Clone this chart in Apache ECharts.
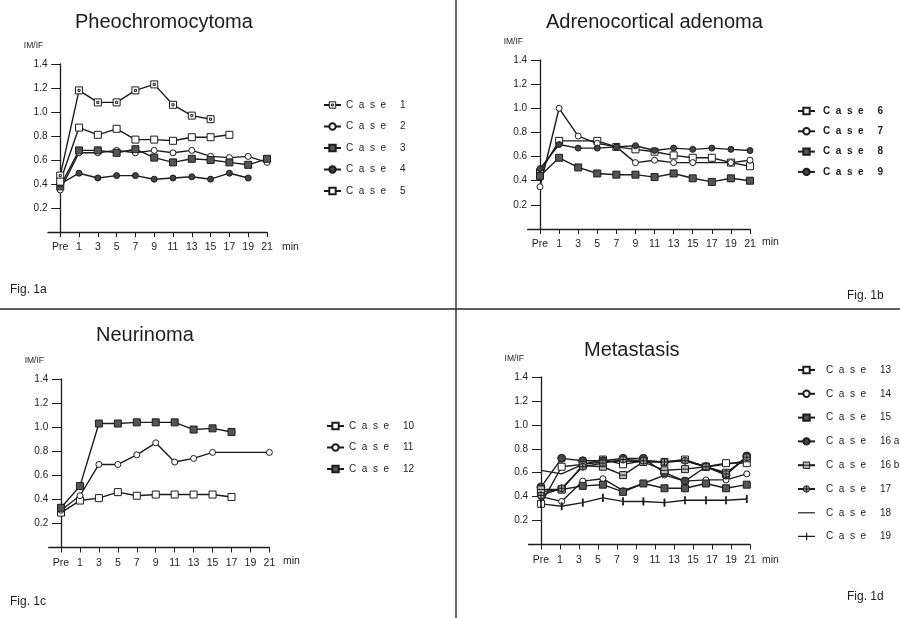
<!DOCTYPE html>
<html>
<head>
<meta charset="utf-8">
<script src="https://cdn.jsdelivr.net/npm/echarts@6/dist/echarts.min.js"></script>
<style>
  html, body { margin: 0; background: #fff; }
  #chart { width: 900px; height: 618px; }
</style>
</head>
<body>
<div id="chart"></div>
<script>
// x positions: Pre = 0, then one step per 2 min
const xLabels = ['Pre', '1', '3', '5', '7', '9', '11', '13', '15', '17', '19', '21'];
const xIdx = [0, 1, 2, 3, 4, 5, 6, 7, 8, 9, 10, 11];
// metastasis samples don't sit on the ticks
const metX = [0, 1.09, 2.2, 3.26, 4.32, 5.39, 6.5, 7.58, 8.68, 9.74, 10.83];

// Fig 1a - Pheochromocytoma
const case1 = [0.47, 1.18, 1.08, 1.08, 1.18, 1.23, 1.06, 0.97, 0.94, null, null, null];
const case2 = [0.35, 0.66, 0.66, 0.68, 0.66, 0.68, 0.66, 0.68, 0.63, 0.62, 0.63, 0.58];
const case3 = [0.38, 0.68, 0.68, 0.66, 0.69, 0.62, 0.58, 0.61, 0.60, 0.58, 0.56, 0.61];
const case4 = [0.40, 0.49, 0.45, 0.47, 0.47, 0.44, 0.45, 0.46, 0.44, 0.49, 0.45, null];
const case5 = [0.42, 0.87, 0.81, 0.86, 0.77, 0.77, 0.76, 0.79, 0.79, 0.81, null, null];

// Fig 1b - Adrenocortical adenoma
const case6 = [0.47, 0.73, null, 0.73, 0.68, 0.66, 0.64, 0.61, 0.59, 0.59, 0.55, 0.52];
const case7 = [0.35, 1.00, 0.77, 0.71, 0.68, 0.55, 0.57, 0.55, 0.55, null, 0.55, 0.57];
const case8 = [0.44, 0.59, 0.51, 0.46, 0.45, 0.45, 0.43, 0.46, 0.42, 0.39, 0.42, 0.40];
const case9 = [0.50, 0.70, 0.67, 0.67, 0.68, 0.69, 0.65, 0.67, 0.66, 0.67, 0.66, 0.65];

// Fig 1c - Neurinoma
const case10 = [0.29, 0.39, 0.41, 0.46, 0.43, 0.44, 0.44, 0.44, 0.44, 0.42, null, null];
const case11 = [0.31, 0.43, 0.69, 0.69, 0.77, 0.87, 0.71, 0.74, 0.79, null, null, 0.79];
const case12 = [0.33, 0.51, 1.03, 1.03, 1.04, 1.04, 1.04, 0.98, 0.99, 0.96, null, null];

// Fig 1d - Metastasis
const case13 = [0.34, 0.65, 0.67, 0.71, 0.67, 0.70, 0.69, 0.71, 0.65, 0.68, 0.68];
const case14 = [0.40, 0.36, 0.53, 0.55, 0.45, 0.51, 0.58, 0.53, 0.54, 0.54, 0.59];
const case15 = [0.44, 0.46, 0.49, 0.50, 0.44, 0.51, 0.47, 0.47, 0.51, 0.47, 0.50];
const case16a = [0.48, 0.72, 0.70, 0.70, 0.72, 0.72, 0.60, 0.53, 0.65, 0.58, 0.74];
const case16b = [0.46, 0.46, 0.66, 0.65, 0.58, 0.69, 0.62, 0.63, 0.65, 0.60, 0.72];
const case17 = [0.41, 0.47, 0.65, 0.68, 0.71, 0.70, 0.69, 0.70, 0.65, 0.59, 0.73];
const case18 = [0.62, 0.59, 0.67, 0.69, 0.70, 0.69, 0.69, 0.70, 0.65, 0.67, 0.70];
const case19 = [0.34, 0.32, 0.35, 0.39, 0.36, 0.36, 0.35, 0.37, 0.37, 0.37, 0.38];

const FONT = '"Liberation Sans", Arial, sans-serif';
const INK = '#1c1c1c';

// marker shapes
const SQ_DOT = 'path://M0,0H10V10H0Z M3.5,3.5H6.5V6.5H3.5Z';
const SQ_BAR = 'path://M0,0H10V10H0Z M0,5H10';
const CIR_X = 'path://M5,0A5,5 0 1 1 5,10A5,5 0 1 1 5,0Z M5,0V10 M0,5H10';
const DASH = 'path://M0,0H17V1.2H0Z';
const DASH_TICK = 'path://M0,3H17V4.2H0Z M8,0H9.2V7.5H8Z';

function line(name, g, xs, vals, symbol, fill, size) {
  return {
    name: name,
    type: 'line',
    xAxisIndex: g,
    yAxisIndex: g,
    data: vals.map((v, i) => [xs[i], v]).filter(d => d[1] !== null),
    symbol: symbol,
    symbolSize: size,
    showSymbol: symbol !== 'none',
    lineStyle: { color: INK, width: 1.4 },
    itemStyle: { color: fill, borderColor: INK, borderWidth: 1 },
    emphasis: { disabled: true },
    z: 3
  };
}

const grids = [
  { left: 48, top: 64, width: 219, height: 168 },
  { left: 527.6, top: 60, width: 222.4, height: 169 },
  { left: 48.7, top: 379, width: 220.7, height: 168.5 },
  { left: 528.6, top: 377, width: 221.4, height: 167.5 }
];

const xAxes = grids.map((_, g) => ({
  type: 'value',
  gridIndex: g,
  min: -0.65,
  max: 11,
  axisLine: { lineStyle: { color: INK, width: 1.3 } },
  axisTick: { customValues: xIdx, length: 5, lineStyle: { color: INK } },
  axisLabel: {
    customValues: xIdx,
    formatter: v => xLabels[Math.round(v)],
    margin: 10, fontSize: 10.5, color: INK, fontFamily: FONT
  },
  splitLine: { show: false }
}));

// y labels stay at the grid edge when the axis line sits on x = 0 (Pre),
// so the margin is small
const yAxes = grids.map((_, g) => ({
  type: 'value',
  gridIndex: g,
  min: 0,
  max: 1.4,
  interval: 0.2,
  name: 'IM/IF',
  nameLocation: 'end',
  nameGap: 14,
  nameTextStyle: { fontSize: 8.5, color: INK, fontFamily: FONT, align: 'right', padding: [0, 17, 0, 0] },
  axisLine: { show: true, lineStyle: { color: INK, width: 1.3 } },
  axisTick: { show: true, length: 9, lineStyle: { color: INK } },
  axisLabel: {
    formatter: v => (v === 0 ? '' : v.toFixed(1)),
    margin: 0.5, fontSize: 10, color: INK, fontFamily: FONT
  },
  splitLine: { show: false }
}));

const caseFmt = n => 'C  a  s  e     ' + n.slice(5);
function legend(items, left, top, gap, bold, pad) {
  return {
    data: items,
    orient: 'vertical',
    left: left,
    top: top,
    padding: 0,
    itemWidth: 17,
    itemHeight: 8,
    itemGap: gap,
    selectedMode: false,
    formatter: caseFmt,
    textStyle: { fontSize: 10, lineHeight: 12, color: INK, fontFamily: FONT, fontWeight: bold ? 'bold' : 'normal', padding: [0, 0, 0, pad] }
  };
}
const pathItem = (name, fill) => ({ name: name, itemStyle: { color: fill, borderColor: INK, borderWidth: 1 } });
const iconItem = (name, icon) => ({ name: name, icon: icon, itemStyle: { color: INK, borderWidth: 0 } });

function label(text, left, top, size) {
  return { text: text, left: left, top: top, padding: 0,
    textStyle: { fontSize: size, fontWeight: 'normal', color: INK, fontFamily: FONT } };
}

const option = {
  backgroundColor: '#fff',
  animation: false,
  title: [
    label('Pheochromocytoma', 75, 12, 20),
    label('Adrenocortical adenoma', 546, 12, 20),
    label('Neurinoma', 96, 325, 20),
    label('Metastasis', 584, 340, 20),
    label('min', 282, 242, 10.5),
    label('min', 762, 237, 10.5),
    label('min', 283, 556, 10.5),
    label('min', 762, 555, 10.5),
    label('Fig. 1a', 10, 284, 12),
    label('Fig. 1b', 847, 290, 12),
    label('Fig. 1c', 10, 596, 12),
    label('Fig. 1d', 847, 591, 12)
  ],
  legend: [
    legend([pathItem('Case 1', '#fff'), 'Case 2', 'Case 3', 'Case 4', 'Case 5'], 323, 99, 9.5, false, 0),
    legend(['Case 6', 'Case 7', 'Case 8', 'Case 9'], 797, 105, 8.3, true, 3),
    legend(['Case 10', 'Case 11', 'Case 12'], 326, 420, 9.5, false, 0),
    legend(['Case 13', 'Case 14', 'Case 15', 'Case 16 a', pathItem('Case 16 b', '#bbb'),
      pathItem('Case 17', '#999'), iconItem('Case 18', DASH), iconItem('Case 19', DASH_TICK)], 797, 364, 11.8, false, 6)
  ],
  grid: grids,
  xAxis: xAxes,
  yAxis: yAxes,
  graphic: [
    { type: 'line', shape: { x1: 456, y1: 0, x2: 456, y2: 618 }, style: { stroke: '#3a3a3a', lineWidth: 1.5 } },
    { type: 'line', shape: { x1: 0, y1: 309, x2: 900, y2: 309 }, style: { stroke: '#2a2a2a', lineWidth: 1.5 } }
  ],
  series: [
    line('Case 1', 0, xIdx, case1, SQ_DOT, '#fff', 7),
    line('Case 2', 0, xIdx, case2, 'circle', '#fff', 6),
    line('Case 3', 0, xIdx, case3, 'rect', '#555', 7),
    line('Case 4', 0, xIdx, case4, 'circle', '#444', 6),
    line('Case 5', 0, xIdx, case5, 'rect', '#fff', 7),

    line('Case 6', 1, xIdx, case6, 'rect', '#fff', 7),
    line('Case 7', 1, xIdx, case7, 'circle', '#fff', 6),
    line('Case 8', 1, xIdx, case8, 'rect', '#555', 7),
    line('Case 9', 1, xIdx, case9, 'circle', '#444', 6),

    line('Case 10', 2, xIdx, case10, 'rect', '#fff', 7),
    line('Case 11', 2, xIdx, case11, 'circle', '#fff', 6),
    line('Case 12', 2, xIdx, case12, 'rect', '#555', 7),

    line('Case 13', 3, metX, case13, 'rect', '#fff', 7),
    line('Case 14', 3, metX, case14, 'circle', '#fff', 6),
    line('Case 15', 3, metX, case15, 'rect', '#555', 7),
    line('Case 16 a', 3, metX, case16a, 'circle', '#444', 8),
    line('Case 16 b', 3, metX, case16b, SQ_BAR, '#bbb', 7),
    line('Case 17', 3, metX, case17, CIR_X, '#999', 7),
    line('Case 18', 3, metX, case18, 'none', INK, 1),
    line('Case 19', 3, metX, case19, 'rect', INK, [1.3, 6])
  ]
};

const chart = echarts.init(document.getElementById('chart'), null, { renderer: 'canvas' });
chart.setOption(option);
</script>
</body>
</html>
